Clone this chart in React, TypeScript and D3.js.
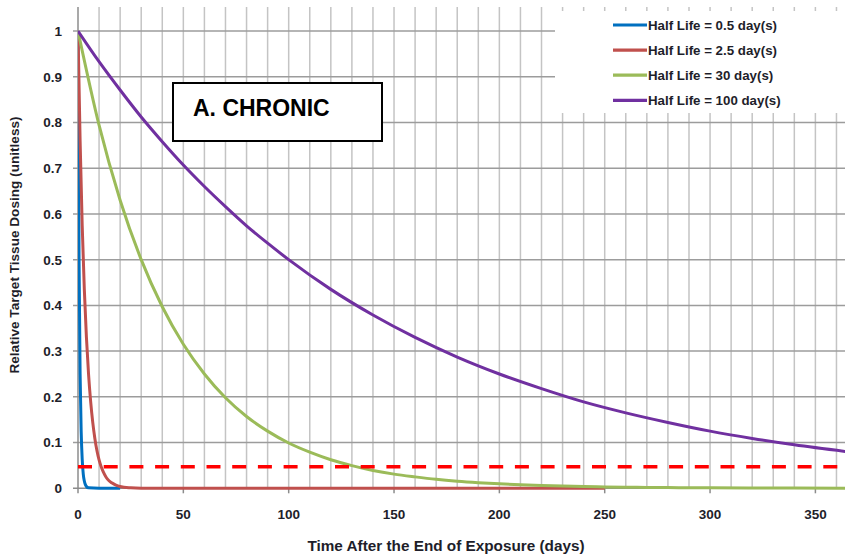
import React from "react";
import * as d3 from "d3";

// Days since the end of exposure, and relative dose at each day, per half life
const blueDays = [0, 0.5, 1, 1.5, 2, 2.5, 3, 3.5, 4, 5, 10, 20];
const blueVals = [1, 0.5, 0.25, 0.125, 0.063, 0.031, 0.016, 0.008, 0.004, 0.001, 0, 0];

const redDays = [0, 1, 2, 3, 4, 5, 6, 7, 8, 9, 10, 11, 12, 13, 14, 16, 18, 20, 25, 30, 40, 250];
const redVals = [1, 0.76, 0.574, 0.435, 0.33, 0.25, 0.19, 0.144, 0.109, 0.082, 0.062, 0.047, 0.036, 0.027, 0.02, 0.012, 0.007, 0.004, 0.001, 0, 0, 0];

const greenDays = [0, 10, 20, 30, 40, 50, 60, 70, 80, 90, 100, 110, 120, 130, 140, 150, 160, 170, 180, 190, 200, 210, 220, 230, 240, 250, 260, 270, 280, 290, 300, 320, 340, 365];
const greenVals = [1, 0.794, 0.63, 0.5, 0.397, 0.315, 0.25, 0.198, 0.157, 0.125, 0.099, 0.079, 0.0625, 0.0496, 0.039, 0.031, 0.025, 0.0197, 0.0156, 0.0124, 0.0098, 0.0078, 0.0062, 0.0049, 0.0039, 0.0031, 0.0025, 0.002, 0.0015, 0.0012, 0.001, 0.0006, 0.0004, 0.0002];

const purpleDays = [0, 10, 20, 30, 40, 50, 60, 70, 80, 90, 100, 120, 140, 160, 180, 200, 220, 240, 260, 280, 300, 320, 340, 365];
const purpleVals = [1, 0.933, 0.871, 0.812, 0.758, 0.707, 0.66, 0.616, 0.574, 0.536, 0.5, 0.435, 0.379, 0.33, 0.287, 0.25, 0.218, 0.189, 0.165, 0.144, 0.125, 0.109, 0.095, 0.08];

const seriesLabels = ["Half Life = 0.5 day(s)", "Half Life = 2.5 day(s)", "Half Life = 30 day(s)", "Half Life = 100 day(s)"];
const seriesColors = ["#0070c0", "#c0504d", "#9bbb59", "#7030a0"];

const thresholdValue = 0.047;

const xTicks = [0, 50, 100, 150, 200, 250, 300, 350];
const yTicks = [0, 0.1, 0.2, 0.3, 0.4, 0.5, 0.6, 0.7, 0.8, 0.9, 1];

const titleText = "A. CHRONIC";
const xLabel = "Time After the End of Exposure (days)";
const yLabel = "Relative Target Tissue Dosing (unitless)";

const W = 845;
const H = 556;
const FONT = "'Liberation Sans', Arial, sans-serif";

export default function App() {
  const x = d3.scaleLinear().domain([0, 365]).range([78, 847]);
  const y = d3.scaleLinear().domain([0, 1]).range([488.3, 31]);
  const plotTop = 7;

  const series = [
    { days: blueDays, vals: blueVals },
    { days: redDays, vals: redVals },
    { days: greenDays, vals: greenVals },
    { days: purpleDays, vals: purpleVals },
  ].map((s, i) => ({
    points: s.days.map((d, j) => [d, s.vals[j]] as [number, number]),
    label: seriesLabels[i],
    color: seriesColors[i],
  }));

  const line = d3
    .line<[number, number]>()
    .x((d) => x(d[0]))
    .y((d) => y(d[1]))
    .curve(d3.curveMonotoneX);

  const vGrid = d3.range(10, 370, 10);
  const hGrid = yTicks.filter((t) => t > 0);

  return (
    <svg
      width={W}
      height={H}
      style={{ position: "absolute", left: 0, top: 0, background: "#fff" }}
      fontFamily={FONT}
    >
      <defs>
        <clipPath id="plot-clip">
          <rect x={78} y={plotTop} width={W - 78} height={488.3 - plotTop + 4} />
        </clipPath>
      </defs>

      {/* vertical gridlines every 10 days */}
      {vGrid.map((d) => (
        <line key={"v" + d} x1={x(d)} x2={x(d)} y1={plotTop} y2={y(0)} stroke="#c4c4c4" strokeWidth={1.5} />
      ))}
      {/* horizontal gridlines */}
      {hGrid.map((t) => (
        <line key={"h" + t} x1={73} x2={847} y1={y(t)} y2={y(t)} stroke="#9c9c9c" strokeWidth={1.5} />
      ))}

      {/* axes */}
      <line x1={x(0)} x2={x(0)} y1={plotTop} y2={y(0)} stroke="#8c8c8c" strokeWidth={1.5} />
      <line x1={73} x2={847} y1={y(0)} y2={y(0)} stroke="#8c8c8c" strokeWidth={1.5} />
      {xTicks.map((t) => (
        <line key={"xt" + t} x1={x(t)} x2={x(t)} y1={y(0)} y2={y(0) + 5} stroke="#8c8c8c" strokeWidth={1.5} />
      ))}

      {/* tick labels */}
      {yTicks.map((t) => (
        <text key={"yl" + t} x={62} y={y(t)} dy="0.36em" textAnchor="end" fontSize={13.5} fontWeight="bold" fill="#1e1e2a">
          {d3.format("~g")(t)}
        </text>
      ))}
      {xTicks.map((t) => (
        <text key={"xl" + t} x={x(t)} y={519} textAnchor="middle" fontSize={13.5} fontWeight="bold" fill="#1e1e2a">
          {t}
        </text>
      ))}

      {/* data */}
      <g clipPath="url(#plot-clip)">
        {series.map((s) => (
          <path key={s.label} d={line(s.points) || ""} fill="none" stroke={s.color} strokeWidth={3} strokeLinejoin="round" />
        ))}
        <line
          x1={x(0)}
          x2={847}
          y1={y(thresholdValue)}
          y2={y(thresholdValue)}
          stroke="#ff0000"
          strokeWidth={3.5}
          strokeDasharray="14,11.7"
        />
      </g>

      {/* axis titles */}
      <text x={446} y={551} textAnchor="middle" fontSize={15.3} fontWeight="bold" fill="#1e1e2a">
        {xLabel}
      </text>
      <text
        transform="translate(19,245) rotate(-90)"
        textAnchor="middle"
        fontSize={13.6}
        fontWeight="bold"
        fill="#1e1e2a"
      >
        {yLabel}
      </text>

      {/* title box */}
      <rect x={173} y={83} width={209} height={58} fill="#fff" stroke="#000" strokeWidth={2} />
      <text x={193} y={115.5} fontSize={23} fontWeight="bold" fill="#000">
        {titleText}
      </text>

      {/* legend */}
      <rect x={555} y={11} width={W - 555} height={102} fill="#fff" />
      {series.map((s, i) => {
        const ly = 25 + i * 25.1;
        return (
          <g key={"lg" + i}>
            <line x1={613} x2={647} y1={ly} y2={ly} stroke={s.color} strokeWidth={3.2} />
            <text x={648} y={ly} dy="0.36em" fontSize={13.3} fontWeight="bold" fill="#1e1e2a">
              {s.label}
            </text>
          </g>
        );
      })}
    </svg>
  );
}
